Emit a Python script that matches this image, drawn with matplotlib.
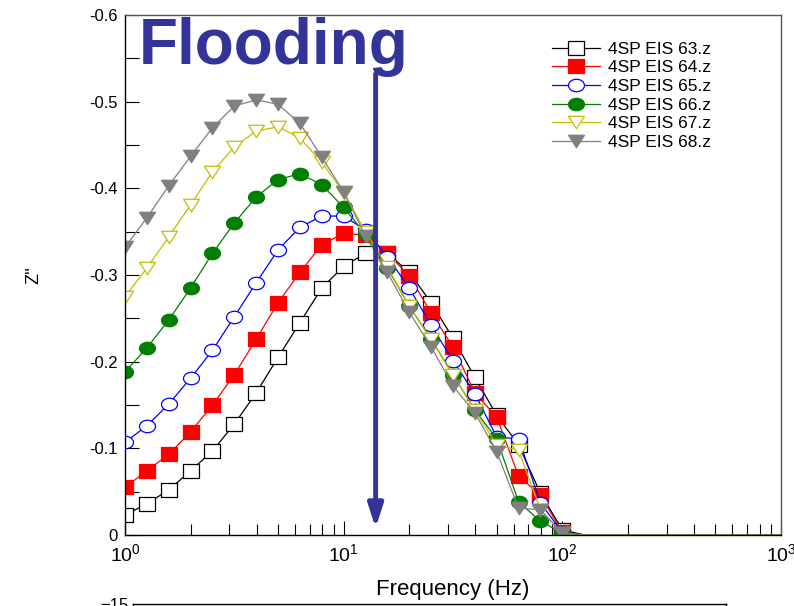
import numpy as np
import matplotlib.pyplot as plt
from matplotlib.path import Path
from matplotlib.ticker import MultipleLocator, FixedLocator, FuncFormatter, NullFormatter

plt.rcParams['font.family'] = ['Liberation Sans', 'DejaVu Sans']

# EIS sweep, 10 points per decade from 1 Hz; markers on the first 21 points
freq = np.logspace(0, 3, 31)
n_marked = 21

labels = ['4SP EIS 63.z', '4SP EIS 64.z', '4SP EIS 65.z',
          '4SP EIS 66.z', '4SP EIS 67.z', '4SP EIS 68.z']

tail = [0.0] * 10  # above ~100 Hz the curves sit on zero

z63 = [-0.023, -0.036, -0.052, -0.074, -0.097, -0.128, -0.164, -0.205, -0.245, -0.285,
       -0.310, -0.325, -0.325, -0.303, -0.268, -0.227, -0.182, -0.138, -0.104, -0.048,
       -0.006] + tail
z64 = [-0.055, -0.074, -0.093, -0.119, -0.150, -0.185, -0.226, -0.268, -0.303, -0.335,
       -0.348, -0.346, -0.325, -0.299, -0.256, -0.217, -0.164, -0.136, -0.068, -0.046,
       -0.003] + tail
z65 = [-0.107, -0.126, -0.151, -0.181, -0.213, -0.252, -0.291, -0.329, -0.355, -0.368,
       -0.368, -0.352, -0.321, -0.285, -0.242, -0.201, -0.163, -0.113, -0.111, -0.037,
       -0.003] + tail
z66 = [-0.188, -0.216, -0.248, -0.285, -0.325, -0.360, -0.390, -0.410, -0.417, -0.404,
       -0.378, -0.347, -0.308, -0.264, -0.226, -0.185, -0.144, -0.111, -0.038, -0.016,
       -0.002] + tail
z67 = [-0.275, -0.308, -0.344, -0.381, -0.419, -0.448, -0.466, -0.471, -0.458, -0.430,
       -0.395, -0.350, -0.309, -0.264, -0.226, -0.185, -0.144, -0.104, -0.098, -0.029,
       -0.002] + tail
z68 = [-0.332, -0.366, -0.403, -0.437, -0.470, -0.495, -0.502, -0.497, -0.475, -0.436,
       -0.396, -0.345, -0.303, -0.257, -0.217, -0.172, -0.141, -0.096, -0.031, -0.029,
       -0.002] + tail

series = [z63, z64, z65, z66, z67, z68]

# slightly flattened marker shapes
sq = Path([(-1, -0.85), (1, -0.85), (1, 0.85), (-1, 0.85), (-1, -0.85)],
          [Path.MOVETO, Path.LINETO, Path.LINETO, Path.LINETO, Path.CLOSEPOLY])
circ = Path(Path.unit_circle().vertices * [1, 0.78], Path.unit_circle().codes)
tri = Path([(-1, 0.78), (1, 0.78), (0, -0.78), (-1, 0.78)],
           [Path.MOVETO, Path.LINETO, Path.LINETO, Path.CLOSEPOLY])

styles = [
    dict(color='black', marker=sq, mfc='white', mec='black'),
    dict(color='#ff0000', marker=sq, mfc='#ff0000', mec='#ff0000'),
    dict(color='#0000ff', marker=circ, mfc='white', mec='#0000ff'),
    dict(color='#007f00', marker=circ, mfc='#007f00', mec='#007f00'),
    dict(color='#c4bc00', marker=tri, mfc='white', mec='#c4bc00'),
    dict(color='#808080', marker=tri, mfc='#808080', mec='#808080'),
]

fig = plt.figure(figsize=(7.94, 6.06), dpi=100)
ax = fig.add_axes([125 / 794, 71 / 606, 656 / 794, 520 / 606])

for z, lab, st in zip(series, labels, styles):
    ax.plot(freq, z, label=lab, lw=0.9, ms=11.5, mew=0.9,
            markevery=slice(0, n_marked), **st)

ax.set_xscale('log')
ax.set_xlim(1, 1000)
ax.set_ylim(0, -0.6)

ax.yaxis.set_major_locator(MultipleLocator(0.1))
ax.yaxis.set_minor_locator(MultipleLocator(0.05))
ax.yaxis.set_major_formatter(FuncFormatter(lambda v, p: '0' if abs(v) < 1e-9 else '%.1f' % v))
ax.xaxis.set_major_locator(FixedLocator([1, 10, 100, 1000]))
ax.xaxis.set_major_formatter(FuncFormatter(lambda v, p: r'$\mathregular{10^{%d}}$' % round(np.log10(v))))
ax.xaxis.set_minor_formatter(NullFormatter())

ax.tick_params(which='both', direction='in', top=False, right=False, labelsize=12, width=0.8)
ax.tick_params(axis='y', which='both', length=10, pad=5)
ax.tick_params(axis='x', which='major', length=10, labelsize=14, pad=6)
ax.tick_params(axis='x', which='minor', length=8)

for s in ax.spines.values():
    s.set_linewidth(1.0)
ax.spines['top'].set_color('#555555')
ax.spines['right'].set_color('#555555')

ax.set_xlabel('Frequency (Hz)', fontsize=16, labelpad=10)
ax.set_ylabel("Z''", fontsize=13, labelpad=34)

ax.legend(loc='upper left', bbox_to_anchor=(0.64, 0.962), frameon=False,
          fontsize=12.5, handlelength=2.75, handletextpad=0.5, labelspacing=0.2,
          borderaxespad=0)

# annotation
ax.text(1.15, -0.598, 'Flooding', color='#333399', fontsize=46, fontweight='bold',
        va='top', ha='left')
ax.annotate('', xy=(14.0, -0.008), xytext=(14.0, -0.532),
            arrowprops=dict(arrowstyle='-|>,head_width=0.45,head_length=1.4',
                            color='#333399', lw=3.5, shrinkA=0, shrinkB=0))

# top edge of the next panel below
ax2 = fig.add_axes([133 / 794, -0.6, 593 / 794, 0.6 + 2 / 606])
ax2.set_ylim(0, -15)
ax2.set_yticks([-15])
ax2.set_xticks([])
ax2.tick_params(axis='y', direction='in', labelsize=12, length=0)
for s in ax2.spines.values():
    s.set_linewidth(1.0)

fig.savefig('out.png', dpi=100)
